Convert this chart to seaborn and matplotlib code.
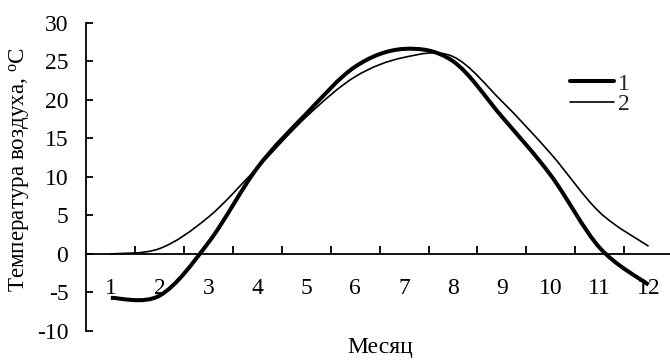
import numpy as np
import pandas as pd
import matplotlib
matplotlib.use("Agg")
import matplotlib.pyplot as plt
from matplotlib.path import Path
from matplotlib.patches import PathPatch
import seaborn as sns

# ---- data ----
months = [1, 2, 3, 4, 5, 6, 7, 8, 9, 10, 11, 12]
month_labels = ["1", "2", "3", "4", "5", "6", "7", "8", "9", "10", "11", "12"]
series1 = [-5.7, -5.4, 1.5, 11.2, 18.2, 24.3, 26.6, 25.0, 17.8, 10.2, 0.8, -4.0]
series2 = [0.0, 0.7, 4.8, 11.2, 17.8, 23.0, 25.5, 25.6, 19.8, 13.0, 5.4, 1.0]
series_names = ["1", "2"]
y_ticks = [-10, -5, 0, 5, 10, 15, 20, 25, 30]

sns.set_style("ticks")
plt.rcParams["font.family"] = ["Liberation Serif", "DejaVu Serif"]
plt.rcParams["mathtext.fontset"] = "custom"
plt.rcParams["mathtext.rm"] = "Liberation Serif"
plt.rcParams["mathtext.it"] = "Liberation Serif:italic"
plt.rcParams["axes.unicode_minus"] = False
FS = 17

fig = plt.figure(figsize=(6.7, 3.6), dpi=100)
ax = fig.add_axes([86.4 / 670, 29 / 360, 586.6 / 670, 308.3 / 360])

df = pd.DataFrame({
    "month": months * 2,
    "temp": series1 + series2,
    "series": [series_names[0]] * 12 + [series_names[1]] * 12,
})
widths = {"1": 2.9, "2": 1.2}
sns.lineplot(data=df, x="month", y="temp", hue="series", size="series",
             sizes=widths, palette={"1": "black", "2": "black"}, ax=ax,
             legend=False)
# replace straight segments by Excel-style smoothed Bezier curves
for ln in ax.get_lines():
    ln.set_visible(False)


def smooth_path(x, y):
    n = len(x)
    verts = [(x[0], y[0])]
    codes = [Path.MOVETO]
    for i in range(n - 1):
        x0, y0 = (x[i - 1], y[i - 1]) if i > 0 else (x[i], y[i])
        x3, y3 = (x[i + 2], y[i + 2]) if i + 2 < n else (x[i + 1], y[i + 1])
        c1 = (x[i] + (x[i + 1] - x0) / 6, y[i] + (y[i + 1] - y0) / 6)
        c2 = (x[i + 1] - (x3 - x[i]) / 6, y[i + 1] - (y3 - y[i]) / 6)
        verts += [c1, c2, (x[i + 1], y[i + 1])]
        codes += [Path.CURVE4] * 3
    return Path(verts, codes)


handles = []
for name, vals in zip(series_names, [series1, series2]):
    p = PathPatch(smooth_path(months, vals), facecolor="none",
                  edgecolor="black", lw=widths[name], capstyle="butt",
                  joinstyle="round", zorder=3, transform=ax.transData)
    ax.add_patch(p)
    handles.append(plt.Line2D([], [], color="black", lw=widths[name]))

ax.set_xlim(0.5, 12.5)
ax.set_ylim(-10, 30)

# axes styling: category axis crossing at zero
ax.spines["top"].set_visible(False)
ax.spines["right"].set_visible(False)
ax.spines["bottom"].set_position(("data", 0))
for s in ["left", "bottom"]:
    ax.spines[s].set_linewidth(1.3)
    ax.spines[s].set_color("black")

ax.set_xticks(months)
ax.set_xticklabels(month_labels)
ax.set_xticks([m + 0.5 for m in months[:-1]], minor=True)
ax.tick_params(axis="x", which="major", length=0, pad=17, labelsize=FS,
               colors="black")
ax.tick_params(axis="x", which="minor", direction="in", length=5.5,
               width=1.3, color="black")
ax.set_yticks(y_ticks)
ax.tick_params(axis="y", direction="in", length=5, width=1.3, pad=13,
               labelsize=FS, colors="black")

ax.set_xlabel("Месяц", fontsize=FS, color="black")
ax.xaxis.set_label_coords(380 / 670, 1.5 / 360, transform=fig.transFigure)
ax.xaxis.label.set_va("bottom")
ax.set_ylabel(r"Температура воздуха, $^{\mathrm{o}}$C", fontsize=16.6,
              color="black")
ax.yaxis.set_label_coords(32 / 670, 0.528, transform=fig.transFigure)

fig.legend(handles, series_names, loc="upper left",
           bbox_to_anchor=(570 / 670, 1 - 73 / 360),
           bbox_transform=fig.transFigure, frameon=False, fontsize=FS,
           handlelength=1.85, handletextpad=0.2, labelspacing=-0.05,
           borderpad=0, borderaxespad=0)

fig.savefig("out.png", dpi=100)
